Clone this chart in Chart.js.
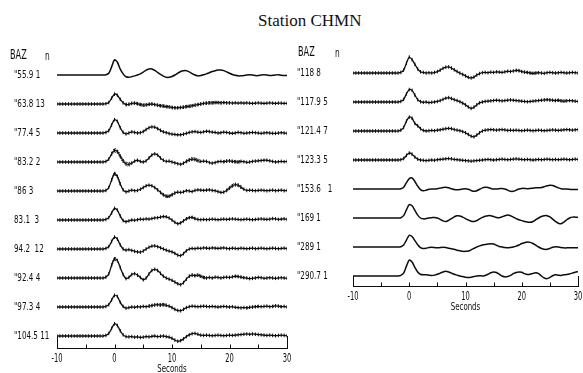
<!DOCTYPE html>
<html>
<head>
<meta charset="utf-8">
<script src="https://cdn.jsdelivr.net/npm/chart.js@4.4.0/dist/chart.umd.min.js"></script>
<style>
  html, body { margin: 0; padding: 0; background: #fff; }
  #wrap { position: relative; width: 583px; height: 373px; overflow: hidden; background: #fff; }
  #title { position: absolute; left: 258px; top: 12px; font: 17px 'Liberation Serif', 'Times New Roman', serif; line-height: 17px; color: #111; white-space: nowrap; }
  canvas { position: absolute; top: 0; }
  #left { left: 0; }
  #right { left: 290px; }
</style>
</head>
<body>
<div id="wrap">
  <div id="title">Station CHMN</div>
  <canvas id="left" width="292" height="373"></canvas>
  <canvas id="right" width="293" height="373"></canvas>
</div>
<script>
// samples every 0.5 s from -10 s to 30 s
const TIME_START = -10;
const TIME_STEP = 0.5;
const TICK_MAJOR = [-10, 0, 10, 20, 30];
const TICK_MINOR = [-5, 5, 15, 25];
const SPACING = 100;   // amplitude units between stacked traces

// left column
const LEFT_BAZ = ['"55.9', '"63.8', '"77.4', '"83.2', '"86', '83.1 ', '94.2 ', '"92.4', '"97.3', '"104.5'];
const LEFT_N = [1, 13, 5, 2, 3, 3, 12, 4, 4, 11];

const RF_559 = [
  0,0,0,0,0,0,0,0,0,0,0,0,0,0,0,0,0,
  1, 6, 28, 52, 44, 20, 4, -6,
  -8, -6, -3, 0, 4, 10, 17, 21,
  21, 16, 9, 2, -4, -8, -8, -5,
  0, 6, 12, 15, 15, 11, 5, 0,
  -3, -2, 1, 4, 8, 12, 15, 17,
  17, 15, 11, 6, 2, -1, -3, -3,
  -2, 0, 1, 0, -2, -2, 0, 1,
  0, -2, -1, 0, 1, -1, -2, -1
];
const RF_638 = [
  0,0,0,0,0,0,0,0,0,0,0,0,0,0,0,0,0,
  1, 5, 20, 34, 30, 16, 4, -2,
  -1, 2, 3, 1, -2, -4, -3, -1,
  0, -2, -4, -6, -7, -9, -10, -12,
  -13, -13, -12, -11, -9, -8, -6, -4,
  -2, 0, 2, 3, 4, 4, 5, 5,
  4, 5, 4, 4, 3, 4, 3, 4,
  3, 4, 3, 2, 3, 4, 3, 2,
  3, 4, 3, 2, 3, 3, 2, 2
];
const RF_774 = [
  0,0,0,0,0,0,0,0,0,0,0,0,0,0,0,0,0,
  2, 8, 28, 46, 40, 18, 2, -3,
  0, 4, 2, 0, 1, 5, 12, 18,
  21, 20, 15, 9, 4, 1, -2, -4,
  -5, -6, -6, -4, -1, 2, 4, 5,
  3, 2, 4, 6, 5, 3, 2, 0,
  1, 3, 2, 0, -1, 0, 2, 1,
  -1, 0, 1, 2, 1, 0, -1, 0,
  1, 0, -1, -1, 0, 1, 0, -1
];
const RF_832 = [
  0,0,0,0,0,0,0,0,0,0,0,0,0,0,0,0,0,
  2, 10, 28, 40, 36, 20, 4, -6,
  -8, -4, 3, 6, 2, 0, 4, 14,
  24, 28, 24, 14, 6, 2, 3, 0,
  -3, -6, -8, -4, 2, 7, 10, 9,
  5, 2, 3, 2, -2, -4, -2, 1,
  2, 1, 3, 4, 2, 1, 0, 2,
  1, -1, 0, 2, 3, 4, 5, 6,
  6, 4, 2, 0, 1, 2, 1, 2
];
const RF_86 = [
  0,0,0,0,0,0,0,0,0,0,0,0,0,0,0,0,0,
  2, 12, 38, 60, 50, 24, 4, -3,
  0, 3, 1, 2, 6, 12, 18, 20,
  18, 12, 4, -5, -13, -18, -18, -13,
  -7, -4, -5, -3, 1, 0, -2, 2,
  4, 3, 2, 3, 4, 2, 1, -2,
  -5, -4, 2, 10, 18, 22, 20, 13,
  6, 2, 3, 2, 1, 2, 3, 2,
  1, 2, 3, 1, 2, 3, 1, 2
];
const RF_831 = [
  0,0,0,0,0,0,0,0,0,0,0,0,0,0,0,0,0,
  2, 8, 24, 40, 34, 14, -2, -6,
  -3, 0, -1, 1, 3, 2, 4, 3,
  5, 7, 8, 10, 12, 11, 7, 0,
  -8, -13, -10, -3, 4, 8, 9, 5,
  2, 1, 2, 1, 2, 3, 2, 1,
  2, 3, 2, 3, 4, 3, 2, 1,
  2, 3, 2, 1, 2, 3, 4, 3,
  2, 3, 5, 4, 2, 3, 4, 2
];
const RF_942 = [
  0,0,0,0,0,0,0,0,0,0,0,0,0,0,0,0,0,
  2, 8, 26, 41, 34, 14, 0, -4,
  -2, -5, -8, -10, -11, -7, 0, 6,
  10, 11, 8, 4, 0, -4, -7, -10,
  -15, -21, -23, -16, -6, 0, 2, 1,
  3, 2, 4, 3, 2, 4, 3, 2,
  3, 4, 2, 1, 3, 2, 1, 3,
  2, 1, 2, 3, 1, 2, 3, 2,
  1, 2, 3, 2, 1, 2, 3, 1
];
const RF_924 = [
  0,0,0,0,0,0,0,0,0,0,0,0,0,0,0,0,0,
  3, 14, 44, 66, 60, 36, 12, -2,
  2, 12, 15, 10, 2, -6, 0, 14,
  26, 30, 26, 16, 6, 0, -4, -8,
  -14, -20, -23, -16, -4, 6, 10, 8,
  10, 6, 2, 0, 2, 0, 3, 2,
  0, 2, 3, 2, 4, 6, 5, 3,
  1, 0, -2, -1, 0, 2, 1, -1,
  0, 1, 0, -1, 0, 1, 0, -1
];
const RF_973 = [
  0,0,0,0,0,0,0,0,0,0,0,0,0,0,0,0,0,
  2, 8, 24, 40, 36, 16, 2, -4,
  -2, 0, -1, 1, 0, 2, 1, 3,
  5, 7, 8, 7, 8, 6, 3, -2,
  -8, -12, -13, -8, -2, 1, 3, 2,
  1, 2, 3, 2, 1, 2, 1, 0,
  1, 2, 1, 0, 1, -1, -2, -3,
  -2, -3, -1, 0, 1, 2, 1, 2,
  3, 1, 2, 4, 3, 1, 2, 0
];
const RF_1045 = [
  0,0,0,0,0,0,0,0,0,0,0,0,0,0,0,0,0,
  2, 9, 26, 42, 36, 18, 4, -2,
  -3, -2, -4, -3, -5, -4, -2, -3,
  -1, 0, -2, -1, 0, -2, -4, -8,
  -14, -18, -16, -10, -2, 4, 8, 9,
  6, 3, 2, 3, 2, 1, 2, 3,
  2, 1, 2, 3, 2, 3, 4, 5,
  6, 7, 6, 7, 6, 5, 4, 3,
  2, 3, 2, 1, 2, 3, 2, 1
];

// right column
const RIGHT_BAZ = ['"118', '"117.9', '"121.4', '"123.3', '"153.6  ', '"169', '"289', '"290.7'];
const RIGHT_N = [8, 5, 7, 5, 1, 1, 1, 1];

const RF_118 = [
  0,0,0,0,0,0,0,0,0,0,0,0,0,0,0,0,0,
  2, 10, 34, 55, 46, 30, 14, 4,
  2, 0, 1, 0, 2, 5, 10, 16,
  20, 21, 17, 11, 5, 0, -5, -10,
  -15, -17, -14, -7, -2, 1, 2, 1,
  3, 2, 4, 3, 2, 4, 6, 5,
  7, 9, 8, 5, 3, 2, 0, -1,
  0, 1, 0, -1, 1, 2, 1, 0,
  1, 2, 1, 0, 1, 2, 1, 0
];
const RF_1179 = [
  0,0,0,0,0,0,0,0,0,0,0,0,0,0,0,0,0,
  2, 9, 28, 43, 40, 24, 8, 1,
  -1, 0, -2, -1, 0, 2, 5, 9,
  13, 15, 12, 8, 5, 1, -4, -10,
  -17, -22, -18, -10, -3, 0, 2, 3,
  4, 5, 6, 5, 4, 5, 6, 7,
  6, 5, 4, 3, 2, 1, 2, 3,
  4, 5, 6, 7, 8, 7, 6, 5,
  6, 4, 3, 4, 5, 4, 3, 2
];
const RF_1214 = [
  0,0,0,0,0,0,0,0,0,0,0,0,0,0,0,0,0,
  3, 12, 34, 48, 44, 26, 18, 8,
  2, 0, 1, 2, 1, 3, 4, 6,
  8, 9, 8, 5, 3, 1, -2, -6,
  -12, -18, -20, -14, -6, 0, 3, 4,
  5, 4, 3, 4, 5, 4, 2, 3,
  2, 3, 2, 1, 2, 3, 2, 1,
  2, 3, 2, 1, 2, 3, 4, 3,
  2, 3, 4, 5, 4, 3, 4, 5
];
const RF_1233 = [
  0,0,0,0,0,0,0,0,0,0,0,0,0,0,0,0,0,
  1, 5, 16, 24, 20, 10, 3, 0,
  -1, -2, -1, 0, -1, 1, 2, 3,
  4, 5, 4, 2, 1, 0, -1, -2,
  -3, -4, -3, -2, -1, 0, 1, 2,
  1, 0, 1, 2, 3, 2, 1, 2,
  3, 4, 3, 2, 1, 2, 1, 0,
  1, 2, 1, 2, 3, 2, 1, 2,
  1, 2, 3, 2, 1, 2, 3, 2
];
const RF_1536 = [
  0,0,0,0,0,0,0,0,0,0,0,0,0,0,0,0,0,
  1, 6, 22, 36, 38, 26, 10, -2,
  -6, -4, -1, 0, 0, 1, 3, 5,
  6, 4, 1, -2, -3, -2, 0, 1,
  -1, -5, -8, -6, -1, 4, 6, 5,
  2, 0, 0, 1, 2, 0, -4, -8,
  -8, -4, 0, 2, 2, 1, 2, 3,
  4, 4, 5, 8, 11, 13, 12, 8,
  4, 1, 0, 0, -1, -2, -2, -2
];
const RF_169 = [
  0,0,0,0,0,0,0,0,0,0,0,0,0,0,0,0,0,
  1, 8, 28, 46, 42, 26, 10, 0,
  -3, -2, 0, 1, 2, 0, -5, -10,
  -12, -8, -2, 4, 8, 7, 3, -2,
  -7, -11, -12, -9, -3, 2, 6, 8,
  8, 5, 2, 1, 4, 8, 10, 8,
  3, -2, -6, -9, -12, -14, -15, -12,
  -6, 0, 5, 8, 8, 4, -4, -12,
  -18, -20, -14, -6, 0, 3, 3, 2
];
const RF_289 = [
  0,0,0,0,0,0,0,0,0,0,0,0,0,0,0,0,0,
  1, 7, 24, 40, 36, 22, 8, -2,
  -5, -4, -2, -1, -2, -3, -2, -1,
  -2, -4, -6, -8, -11, -13, -15, -15,
  -14, -10, -5, 0, 4, 7, 9, 10,
  11, 10, 6, 2, 0, -2, -3, -2,
  0, 3, 7, 12, 15, 17, 16, 12,
  6, 0, -5, -8, -8, -5, -1, 1,
  0, -2, -3, -3, -3, -3, -3, -3
];
const RF_2907 = [
  0,0,0,0,0,0,0,0,0,0,0,0,0,0,0,0,0,
  2, 10, 34, 55, 48, 30, 14, 6,
  4, 4, 3, 2, 3, 6, 10, 14,
  16, 14, 10, 6, 3, 0, -2, -4,
  -5, -4, -2, 0, 1, 0, 2, 6,
  11, 14, 12, 6, 0, -3, -2, 2,
  8, 12, 14, 13, 8, 5, 6, 9,
  11, 8, 0, -7, -9, -5, 1, 4,
  3, 2, 4, 5, 7, 10, 13, 15
];

const LEFT_TRACES = [RF_559, RF_638, RF_774, RF_832, RF_86, RF_831, RF_942, RF_924, RF_973, RF_1045];
const RIGHT_TRACES = [RF_118, RF_1179, RF_1214, RF_1233, RF_1536, RF_169, RF_289, RF_2907];

// standard-error bands drawn dotted: [from s, to s, half width]
const LEFT_ERR = [
  [], [[2, 20, 4]], [], [[-0.5, 3, 6], [12.5, 15, 5], [19, 22, 4]], [[-0.5, 1, 4], [8, 10.5, 4], [19.5, 22, 5]],
  [[12.5, 14, 3]], [], [[-0.5, 0.5, 5], [13, 16, 4], [21, 22.5, 3]], [[6, 9, 4], [23, 25, 3], [27.5, 29, 3]], []
];
const RIGHT_ERR = [[[19, 23, 3]], [[24, 28, 3]], [], [], [], [], [], []];

const INK = '#0d0d0d';
const PX_PER_UNIT = 0.29;
const FONT = "'DejaVu Sans', 'Liberation Sans', sans-serif";

function narrowText(ctx, text, x, y, size, squeeze, align) {
  ctx.save();
  ctx.translate(x, y);
  ctx.scale(squeeze, 1);
  ctx.font = size + 'px ' + FONT;
  ctx.textAlign = align || 'left';
  ctx.textBaseline = 'middle';
  ctx.fillText(text, 0, 0);
  ctx.restore();
}

const panelDecor = {
  id: 'panelDecor',
  afterDraw(chart, args, o) {
    const { ctx, chartArea } = chart;
    const x = chart.scales.x, y = chart.scales.y;
    const axisY = Math.round(chartArea.bottom) + 0.5;
    ctx.save();
    ctx.strokeStyle = INK;
    ctx.fillStyle = INK;
    ctx.lineWidth = 1;
    // inward tick marks
    TICK_MAJOR.concat(TICK_MINOR).forEach(v => {
      const px = Math.round(x.getPixelForValue(v)) + 0.5;
      ctx.beginPath();
      ctx.moveTo(px, axisY);
      ctx.lineTo(px, axisY - 4);
      ctx.stroke();
    });
    // sides of the bottom frame, up to the lowest trace
    const lastBase = y.getPixelForValue(-SPACING * (o.count - 1));
    [TICK_MAJOR[0], TICK_MAJOR[TICK_MAJOR.length - 1]].forEach(v => {
      const px = Math.round(x.getPixelForValue(v)) + 0.5;
      ctx.beginPath();
      ctx.moveTo(px, axisY);
      ctx.lineTo(px, lastBase);
      ctx.stroke();
    });
    // tick labels and axis title
    TICK_MAJOR.forEach(v => {
      narrowText(ctx, String(v), x.getPixelForValue(v), axisY + 10, 12, 0.56, 'center');
    });
    narrowText(ctx, 'Seconds', x.getPixelForValue(10), axisY + 21, 10, 0.7, 'center');
    // header and trace labels
    narrowText(ctx, 'BAZ', o.headX, o.headY, 14, 0.58);
    narrowText(ctx, 'n', o.nX, o.headY + 2, 12, 0.62);
    o.baz.forEach((b, k) => {
      const py = y.getPixelForValue(-SPACING * k);
      narrowText(ctx, b + ' ' + o.n[k], o.labelX, py, 10, 0.72);
    });
    ctx.restore();
  }
};

function makePanel(id, traces, baz, n, errs, lay) {
  const datasets = [];
  traces.forEach((vals, k) => {
    const off = -SPACING * k;
    const dense = n[k] > 1;
    datasets.push({
      data: vals.map((v, i) => ({ x: TIME_START + i * TIME_STEP, y: off + v })),
      borderColor: INK,
      borderWidth: dense ? 1.3 : 1.5,
      pointRadius: dense ? 1.8 : 0,
      pointStyle: 'line',
      pointRotation: 90,
      pointBorderColor: INK,
      pointBorderWidth: 1,
      tension: 0.3
    });
    (errs[k] || []).forEach(([t0, t1, e]) => {
      [1, -1].forEach(sign => {
        const band = [];
        vals.forEach((v, i) => {
          const t = TIME_START + i * TIME_STEP;
          if (t >= t0 && t <= t1) band.push({ x: t, y: off + v + sign * e });
        });
        datasets.push({
          data: band,
          borderColor: INK,
          borderWidth: 1,
          borderDash: [1, 1.6],
          pointRadius: 0,
          tension: 0.3
        });
      });
    });
  });

  const ymax = (lay.firstBase - lay.top) / PX_PER_UNIT;
  const ymin = -(lay.axisY - lay.firstBase) / PX_PER_UNIT;
  const xHeight = 25;

  return new Chart(document.getElementById(id).getContext('2d'), {
    type: 'line',
    data: { datasets },
    options: {
      responsive: false,
      animation: false,
      events: [],
      layout: { padding: { top: lay.top, left: lay.left, right: lay.right, bottom: 373 - xHeight - lay.axisY } },
      plugins: {
        legend: { display: false },
        tooltip: { enabled: false },
        panelDecor: { count: traces.length, baz, n, labelX: lay.labelX, headX: lay.headX, headY: lay.headY, nX: lay.nX }
      },
      scales: {
        x: {
          type: 'linear', min: TICK_MAJOR[0], max: TICK_MAJOR[TICK_MAJOR.length - 1],
          grid: { display: false },
          ticks: { display: false, stepSize: 10 },
          border: { display: true, color: INK, width: 1 },
          afterFit(s) { s.height = xHeight; }
        },
        y: { display: false, min: ymin, max: ymax }
      }
    },
    plugins: [panelDecor]
  });
}

makePanel('left', LEFT_TRACES, LEFT_BAZ, LEFT_N, LEFT_ERR,
  { top: 40, left: 57, right: 5, firstBase: 75, axisY: 348, labelX: 14, headX: 10, headY: 55, nX: 45 });
makePanel('right', RIGHT_TRACES, RIGHT_BAZ, RIGHT_N, RIGHT_ERR,
  { top: 40, left: 63, right: 4, firstBase: 73, axisY: 286, labelX: 7, headX: 8, headY: 52, nX: 45 });
</script>
</body>
</html>
